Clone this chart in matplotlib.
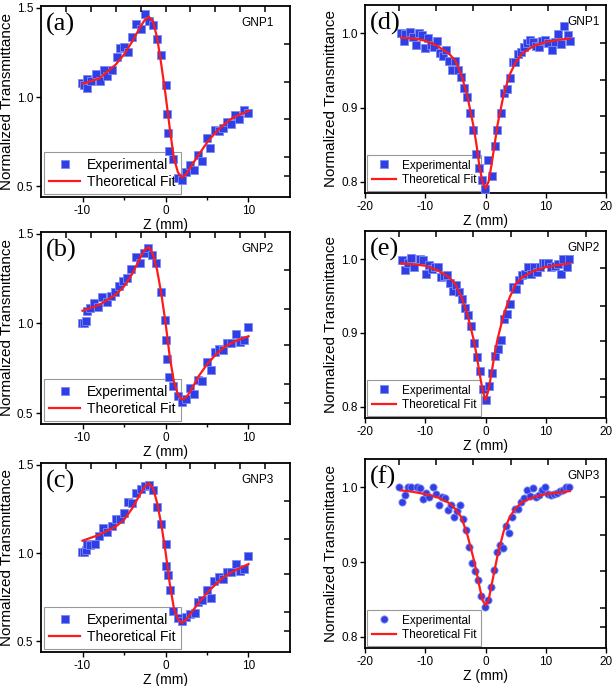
import numpy as np
import matplotlib.pyplot as plt

plt.rcParams['font.family'] = ['Liberation Sans', 'DejaVu Sans']
plt.rcParams['axes.unicode_minus'] = False

# ---- (a) GNP1 closed aperture ----
za = [-10.1, -9.8, -9.5, -9.5, -9.0, -8.4, -7.9, -7.4, -7.0, -6.5, -5.9, -5.5, -5.0, -4.5,
      -4.0, -3.5, -3.0, -2.5, -2.0, -1.5, -1.0, -0.5, 0.0, 0.15, 0.25, 0.45, 0.9, 1.45,
      2.0, 2.45, 3.0, 3.45, 3.95, 4.45, 4.95, 5.4, 5.95, 6.4, 6.9, 7.4, 7.9, 8.4, 8.9, 9.4, 9.9]
ta = [1.08, 1.067, 1.048, 1.104, 1.09, 1.13, 1.09, 1.152, 1.117, 1.149, 1.223, 1.275, 1.279, 1.251,
      1.338, 1.411, 1.379, 1.463, 1.427, 1.405, 1.323, 1.238, 1.07, 0.907, 0.797, 0.699, 0.651, 0.545,
      0.535, 0.578, 0.621, 0.591, 0.675, 0.643, 0.768, 0.717, 0.814, 0.809, 0.829, 0.862, 0.848, 0.898,
      0.879, 0.926, 0.909]
fza = [-10, -8, -6, -5, -4, -3, -2.5, -2, -1.5, -1, -0.5, 0, 0.5, 1, 1.5, 2, 2.5, 3, 4, 5, 6, 7, 8, 9, 10]
fta = [1.074, 1.104, 1.182, 1.238, 1.312, 1.396, 1.432, 1.450, 1.424, 1.33, 1.18, 1.015, 0.83, 0.66,
       0.578, 0.55, 0.569, 0.606, 0.677, 0.745, 0.80, 0.844, 0.881, 0.903, 0.922]

# ---- (b) GNP2 closed aperture ----
zb = [-10.05, -9.8, -9.6, -9.5, -9.1, -8.6, -8.1, -7.6, -7.1, -6.6, -6.1, -5.6, -5.1, -4.6, -4.1,
      -3.6, -3.05, -2.6, -2.1, -1.6, -1.1, -0.6, -0.1, 0.1, 0.2, 0.4, 0.9, 1.45, 1.95, 2.45, 2.9,
      3.45, 3.95, 4.45, 4.95, 5.45, 5.95, 6.5, 6.95, 7.45, 7.95, 8.45, 8.95, 9.45, 9.95]
tb = [1.0, 1.004, 1.013, 1.071, 1.086, 1.112, 1.09, 1.146, 1.121, 1.155, 1.174, 1.207, 1.236, 1.254,
      1.305, 1.37, 1.338, 1.394, 1.422, 1.379, 1.335, 1.178, 1.022, 0.908, 0.8, 0.70, 0.65, 0.594,
      0.563, 0.581, 0.641, 0.609, 0.686, 0.678, 0.787, 0.74, 0.841, 0.86, 0.852, 0.89, 0.893, 0.94,
      0.897, 0.907, 0.978]
fzb = [-10, -8, -6, -5, -4, -3, -2.5, -2, -1.5, -1, -0.5, 0, 0.5, 1, 1.5, 2, 2.5, 3, 4, 5, 6, 7, 8, 9, 10]
ftb = [1.071, 1.103, 1.161, 1.206, 1.277, 1.37, 1.411, 1.426, 1.385, 1.295, 1.164, 1.006, 0.819, 0.679,
       0.604, 0.576, 0.589, 0.622, 0.707, 0.772, 0.824, 0.865, 0.893, 0.912, 0.929]

# ---- (c) GNP3 closed aperture ----
zc = [-10.1, -9.8, -9.6, -9.5, -9.1, -8.5, -8.0, -7.5, -7.0, -6.5, -6.0, -5.5, -5.0, -4.5, -4.0,
      -3.5, -3.0, -2.5, -2.0, -1.5, -1.0, -0.5, 0.0, 0.1, 0.25, 0.5, 0.95, 1.5, 2.0, 2.5, 2.95,
      3.5, 3.95, 4.45, 4.95, 5.45, 5.9, 6.45, 6.95, 7.45, 7.95, 8.5, 8.95, 9.5, 9.95]
tc = [1.004, 1.006, 1.019, 1.051, 1.043, 1.053, 1.096, 1.141, 1.122, 1.154, 1.195, 1.194, 1.224, 1.289,
      1.282, 1.338, 1.361, 1.382, 1.385, 1.359, 1.263, 1.165, 1.053, 0.925, 0.874, 0.793, 0.671, 0.63,
      0.615, 0.639, 0.656, 0.66, 0.724, 0.737, 0.791, 0.746, 0.844, 0.863, 0.855, 0.893, 0.893, 0.94,
      0.9, 0.91, 0.981]
fzc = [-10, -8, -6, -5, -4, -3, -2.5, -2, -1.5, -1, -0.5, 0, 0.5, 1, 1.5, 2, 2.5, 3, 4, 5, 6, 7, 8, 9, 10]
ftc = [1.07, 1.103, 1.15, 1.188, 1.254, 1.338, 1.376, 1.395, 1.367, 1.282, 1.16, 1.009, 0.831, 0.69,
       0.624, 0.605, 0.624, 0.656, 0.718, 0.774, 0.821, 0.863, 0.893, 0.915, 0.938]

# ---- (d) GNP1 open aperture ----
zd = [-14.1, -13.6, -13.3, -12.6, -12.0, -11.6, -11.1, -10.6, -10.0, -9.5, -9.0, -8.5, -8.0, -7.6,
      -7.0, -6.5, -6.0, -5.5, -5.0, -4.5, -4.0, -3.5, -3.05, -2.55, -2.05, -1.55, -1.05, -0.55, -0.05,
      0.45, 1.0, 1.5, 1.95, 2.55, 3.05, 3.5, 4.0, 4.5, 4.95, 5.45, 5.95, 6.45, 6.95, 7.45, 7.95, 8.45,
      8.95, 9.45, 9.95, 10.45, 11.05, 11.55, 12.05, 12.6, 13.1, 13.65, 14.1]
td = [1.0, 0.99, 0.999, 1.001, 0.995, 0.984, 1.0, 0.998, 0.98, 0.993, 0.984, 0.981, 0.989, 0.973,
      0.970, 0.978, 0.963, 0.951, 0.963, 0.95, 0.941, 0.926, 0.914, 0.892, 0.87, 0.837, 0.818, 0.803,
      0.79, 0.83, 0.808, 0.848, 0.870, 0.893, 0.919, 0.925, 0.94, 0.961, 0.961, 0.972, 0.975, 0.981,
      0.987, 0.991, 0.988, 0.983, 0.982, 0.99, 0.991, 0.987, 0.978, 0.988, 0.999, 0.985, 1.01, 0.997, 0.99]
fzd = [-14, -12, -10, -8, -6, -5, -4, -3, -2, -1.5, -1, -0.5, 0, 0.5, 1, 1.5, 2, 3, 4, 5, 6, 8, 10, 12, 14]
ftd = [0.994, 0.993, 0.99, 0.983, 0.972, 0.963, 0.944, 0.915, 0.875, 0.85, 0.82, 0.80, 0.791, 0.80,
       0.823, 0.85, 0.877, 0.917, 0.944, 0.961, 0.972, 0.983, 0.988, 0.991, 0.993]

# ---- (e) GNP2 open aperture ----
ze = [-13.9, -13.4, -12.9, -12.4, -11.9, -11.3, -10.9, -10.3, -9.8, -9.35, -8.85, -8.35, -7.9, -7.4,
      -6.9, -6.4, -5.9, -5.4, -4.9, -4.4, -3.9, -3.4, -2.9, -2.4, -1.9, -1.45, -0.95, -0.45, 0.05,
      0.55, 1.05, 1.55, 2.05, 2.55, 3.0, 3.5, 4.0, 4.5, 5.0, 5.5, 6.0, 6.5, 7.0, 7.5, 8.0, 8.5, 9.0,
      9.5, 9.95, 10.45, 10.95, 11.45, 11.95, 12.45, 12.9, 13.5, 13.9]
te = [0.999, 0.985, 0.994, 1.001, 0.989, 1.045, 1.0, 0.999, 0.98, 0.992, 0.987, 0.989, 0.989, 0.976,
      0.977, 0.978, 0.968, 0.957, 0.965, 0.956, 0.946, 0.934, 0.924, 0.91, 0.887, 0.867, 0.848, 0.824,
      0.809, 0.828, 0.846, 0.869, 0.879, 0.891, 0.919, 0.925, 0.939, 0.962, 0.96, 0.972, 0.978, 0.98,
      0.989, 0.98, 0.989, 0.982, 0.989, 0.994, 0.994, 0.995, 0.989, 0.991, 0.993, 0.98, 1.0, 0.989, 1.0]
fze = [-14, -12, -10, -8, -6, -5, -4, -3, -2, -1.5, -1, -0.5, 0, 0.5, 1, 1.5, 2, 3, 4, 5, 6, 8, 10, 12, 14]
fte = [0.994, 0.993, 0.991, 0.985, 0.975, 0.966, 0.949, 0.925, 0.892, 0.871, 0.846, 0.823, 0.809, 0.823,
       0.846, 0.871, 0.892, 0.924, 0.948, 0.966, 0.975, 0.984, 0.989, 0.992, 0.994]

# ---- (f) GNP3 open aperture ----
zf = [-14.3, -13.8, -13.3, -12.8, -12.3, -11.3, -10.8, -10.3, -9.8, -9.3, -8.7, -8.2, -7.7, -7.2,
      -6.7, -6.2, -5.7, -5.2, -4.7, -4.2, -3.7, -3.2, -2.7, -2.2, -1.7, -1.2, -0.7, -0.15, 0.4, 0.85,
      1.35, 1.85, 2.35, 2.85, 3.35, 3.85, 4.35, 4.85, 5.35, 5.85, 6.35, 6.85, 7.35, 7.85, 8.35, 8.85,
      9.35, 9.85, 10.35, 10.85, 11.35, 11.85, 12.35, 12.85, 13.35, 13.85]
tf = [1.0, 0.981, 0.99, 1.001, 1.0, 1.0, 0.999, 0.985, 0.993, 0.987, 1.0, 0.991, 0.977, 0.987,
      0.986, 0.97, 0.977, 0.96, 0.968, 0.976, 0.958, 0.943, 0.92, 0.899, 0.888, 0.876, 0.854, 0.84,
      0.849, 0.867, 0.89, 0.913, 0.923, 0.919, 0.948, 0.939, 0.961, 0.971, 0.971, 0.981, 0.986, 0.997,
      0.988, 0.999, 0.987, 0.99, 0.996, 1.0, 0.991, 0.99, 0.991, 0.993, 0.995, 0.997, 1.0, 1.0]
fzf = [-14, -12, -10, -8, -6, -5, -4, -3, -2, -1.5, -1, -0.5, 0, 0.5, 1, 1.5, 2, 3, 4, 5, 6, 8, 10, 12, 14]
ftf = [0.996, 0.994, 0.991, 0.987, 0.979, 0.971, 0.96, 0.936, 0.905, 0.887, 0.867, 0.849, 0.842, 0.849,
       0.869, 0.889, 0.909, 0.941, 0.96, 0.972, 0.98, 0.987, 0.991, 0.993, 0.995]

blue = '#2f3fe6'
red = '#ff1a1a'

fig = plt.figure(figsize=(6.14, 6.86), dpi=100)


def panel(rect, z, t, fz, ft, tag, name, closed, name_x, marker='s'):
    ax = fig.add_axes(rect)
    ax.plot(z, t, linestyle='none', marker=marker, ms=5.2, mfc=blue, mec='#7f88f0',
            mew=0.6, label='Experimental', zorder=3)
    ax.plot(fz, ft, color=red, lw=1.6, label='Theoretical Fit', zorder=4)
    if closed:
        xl, yl = (-15, 15), (0.44, 1.51)
        ax.set_xticks([-10, 0, 10])
        ax.set_xticks([-5, 5], minor=True)
        ax.set_yticks([0.5, 1.0, 1.5])
        tops = np.arange(0.1, 0.95, 0.1)
        lfs, hl = 10, 2.2
    else:
        xl, yl = (-20, 20), (0.785, 1.038)
        ax.set_xticks([-20, -10, 0, 10, 20])
        ax.set_yticks([0.8, 0.9, 1.0])
        tops = np.arange(0.14, 0.95, 0.155)
        lfs, hl = 8.5, 2.0
    ax.set_xlim(*xl)
    ax.set_ylim(*yl)
    ax.tick_params(direction='out', length=3.5, width=1, labelsize=8.5, pad=2)
    ax.tick_params(which='minor', direction='out', length=2.5, width=1)
    for s in ax.spines.values():
        s.set_linewidth(1.3)

    # inward ticks on the top and right frame (own 0..1 scale)
    tx = ax.twiny()
    tx.set_xlim(0, 1)
    tx.set_xticks(tops)
    tx.tick_params(direction='in', length=4, width=1.1, labeltop=False)
    ty = ax.twinx()
    ty.set_ylim(0, 1)
    ty.set_yticks([0.11, 0.21, 0.41, 0.60, 0.80])
    ty.tick_params(direction='in', length=4, width=1.1, labelright=False)
    for tw in (tx, ty):
        for s in tw.spines.values():
            s.set_visible(False)

    ax.set_xlabel('Z (mm)', fontsize=10, labelpad=1)
    ax.set_ylabel('Normalized Transmittance', fontsize=11, labelpad=2)
    ax.text(0.02, 0.965, tag, transform=ax.transAxes, ha='left', va='top',
            fontsize=19, family='Liberation Serif')
    ax.text(name_x, 0.91, name, transform=ax.transAxes, ha='right', va='center', fontsize=8.5)
    leg = ax.legend(loc='lower left', fontsize=lfs, fancybox=False, edgecolor='#999999',
                    borderaxespad=0.2, handlelength=hl, handletextpad=0.5,
                    labelspacing=0.2, borderpad=0.4, framealpha=1)
    leg.get_frame().set_linewidth(0.8)
    leg.set_zorder(2)  # data points sit on top of the legend box
    return ax


panel([0.0668, 0.7128, 0.4055, 0.2784], za, ta, fza, fta, '(a)', 'GNP1', True, 0.935)
panel([0.0668, 0.3819, 0.4055, 0.2800], zb, tb, fzb, ftb, '(b)', 'GNP2', True, 0.935)
panel([0.0668, 0.0496, 0.4055, 0.2755], zc, tc, fzc, ftc, '(c)', 'GNP3', True, 0.935)
panel([0.5945, 0.7187, 0.3925, 0.2740], zd, td, fzd, ftd, '(d)', 'GNP1', False, 0.975)
panel([0.5945, 0.3907, 0.3925, 0.2726], ze, te, fze, fte, '(e)', 'GNP2', False, 0.975)
panel([0.5945, 0.0554, 0.3925, 0.2755], zf, tf, fzf, ftf, '(f)', 'GNP3', False, 0.975, marker='o')

fig.savefig('out.png', dpi=100)
